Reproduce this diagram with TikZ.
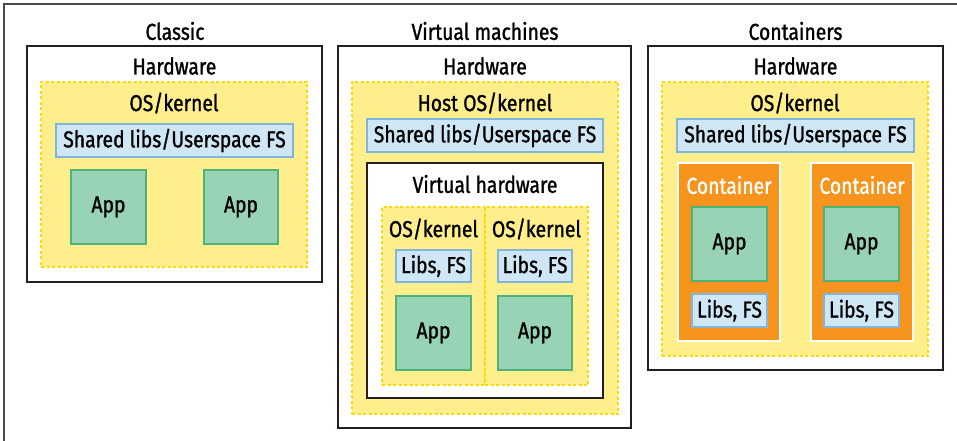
\documentclass[tikz,border=0pt]{standalone}
\usepackage{fontspec}
\setmainfont{Fira Sans}[FakeStretch=0.84, FakeBold=1.2]
\definecolor{frame}{HTML}{4A4A4A}
\definecolor{boxline}{HTML}{231F20}
\definecolor{osfill}{HTML}{FFEE8C}
\definecolor{osline}{HTML}{FFDA00}
\definecolor{libfill}{HTML}{CFE6F5}
\definecolor{libline}{HTML}{80B6DD}
\definecolor{appfill}{HTML}{99D3B5}
\definecolor{appline}{HTML}{4DB37A}
\definecolor{contfill}{HTML}{F7941D}
\tikzset{
  every node/.style={inner sep=0pt, outer sep=0pt},
  lbl/.style={font=\fontsize{23}{27}\selectfont, text=black, anchor=center},
  hostbox/.style={draw=boxline, line width=2pt, fill=white, anchor=north west},
  osbox/.style={draw=osline, fill=osfill, line width=1.6pt, dash pattern=on 3pt off 2.5pt, anchor=north west},
  libbox/.style={draw=libline, fill=libfill, line width=2.2pt, anchor=north west},
  appbox/.style={draw=appline, fill=appfill, line width=2.2pt, anchor=north west},
  contbox/.style={draw=white, fill=contfill, line width=1.5pt, anchor=north west},
}
% \rect{name}{style}{x1}{y1}{x2}{y2}
\newcommand{\rect}[6]{%
  \pgfmathsetmacro{\rw}{#5-#3}\pgfmathsetmacro{\rh}{#6-#4}%
  \node[#2, minimum width=\rw pt, minimum height=\rh pt] (#1) at (#3,#4) {};}
\begin{document}
\begin{tikzpicture}[x=1pt,y=-1pt]
\useasboundingbox (0,0) rectangle (957,441);
% outer frame
\coordinate (fa) at (4,441);
\coordinate (fb) at (4,4);
\coordinate (fc) at (957,4);
\draw[frame, line width=1.4pt] (fa) -- (fb) -- (fc);

% ---------- Classic ----------
\node[lbl] (t1) at (175,31) {Classic};
\rect{c-hw}{hostbox}{27}{46}{322}{282}
\node[lbl] (c-hwl) at (174.5,66) {Hardware};
\rect{c-os}{osbox}{41}{82}{307}{267}
\node[lbl] (c-osl) at (174,103) {OS/kernel};
\rect{c-lib}{libbox}{56}{124}{293}{157}
\node[lbl] at (c-lib.center) (c-libl) {Shared libs/Userspace FS};
\rect{c-app1}{appbox}{71}{170}{146}{244}
\node[lbl] at (c-app1.center) (c-app1l) {App};
\rect{c-app2}{appbox}{204}{170}{278}{244}
\node[lbl] at (c-app2.center) (c-app2l) {App};

% ---------- Virtual machines ----------
\node[lbl] (t2) at (485,31) {Virtual machines};
\rect{v-hw}{hostbox}{338}{46}{631}{428}
\node[lbl] (v-hwl) at (485,66) {Hardware};
\rect{v-os}{osbox}{352}{82}{618}{414}
\node[lbl] (v-osl) at (485,103) {Host OS/kernel};
\rect{v-lib}{libbox}{367}{119}{603}{152}
\node[lbl] at (v-lib.center) (v-libl) {Shared libs/Userspace FS};
\rect{v-vhw}{hostbox}{367}{163}{603}{398}
\node[lbl] (v-vhwl) at (485,184) {Virtual hardware};
\rect{v-gos1}{osbox}{382}{207}{485}{385}
\rect{v-gos2}{osbox}{485}{207}{588}{385}
\node[lbl] (v-gos1l) at (433.5,229) {OS/kernel};
\node[lbl] (v-gos2l) at (536.5,229) {OS/kernel};
\rect{v-lib1}{libbox}{396}{250}{471}{282}
\node[lbl] at (v-lib1.center) (v-lib1l) {Libs, FS};
\rect{v-lib2}{libbox}{498}{250}{572}{282}
\node[lbl] at (v-lib2.center) (v-lib2l) {Libs, FS};
\rect{v-app1}{appbox}{396}{296}{471}{370}
\node[lbl] at (v-app1.center) (v-app1l) {App};
\rect{v-app2}{appbox}{498}{296}{572}{370}
\node[lbl] at (v-app2.center) (v-app2l) {App};

% ---------- Containers ----------
\node[lbl] (t3) at (795.5,31) {Containers};
\rect{k-hw}{hostbox}{648}{46}{943}{370}
\node[lbl] (k-hwl) at (795.5,66) {Hardware};
\rect{k-os}{osbox}{662}{82}{928}{356}
\node[lbl] (k-osl) at (795,103) {OS/kernel};
\rect{k-lib}{libbox}{677}{119}{914}{152}
\node[lbl] at (k-lib.center) (k-libl) {Shared libs/Userspace FS};
\rect{k-c1}{contbox}{678}{163}{780}{341}
\rect{k-c2}{contbox}{811}{163}{913}{341}
\node[lbl, text=white] (k-c1l) at (729,185) {Container};
\node[lbl, text=white] (k-c2l) at (862,185) {Container};
\rect{k-app1}{appbox}{692}{207}{767}{281}
\node[lbl] at (k-app1.center) (k-app1l) {App};
\rect{k-app2}{appbox}{824}{207}{899}{281}
\node[lbl] at (k-app2.center) (k-app2l) {App};
\rect{k-lib1}{libbox}{692}{294}{767}{327}
\node[lbl] at (k-lib1.center) (k-lib1l) {Libs, FS};
\rect{k-lib2}{libbox}{824}{294}{899}{327}
\node[lbl] at (k-lib2.center) (k-lib2l) {Libs, FS};
\end{tikzpicture}
\end{document}
